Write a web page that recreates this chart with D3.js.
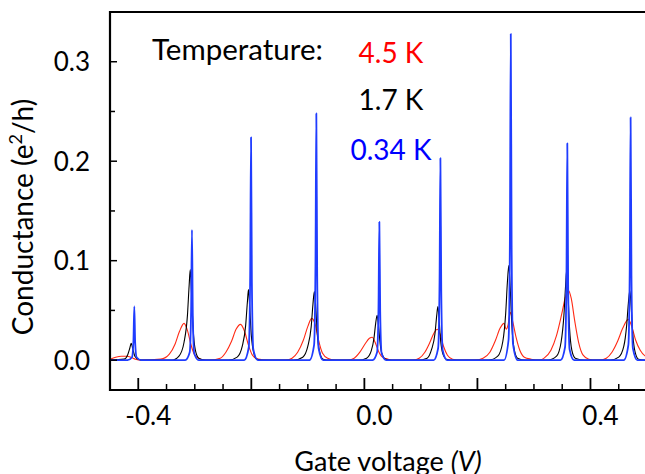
<!DOCTYPE html>
<html>
<head>
<meta charset="utf-8">
<script src="https://cdn.jsdelivr.net/npm/d3@7"></script>
<style>
  body { margin: 0; background: #fff; }
  svg { display: block; font-family: Lato, "Open Sans", sans-serif; }
</style>
</head>
<body>
<div id="chart"></div>
<script>
// Gate-voltage sweeps (V, conductance in e^2/h)
const red45K = [
  [-0.45, 0.001], [-0.44, 0.003], [-0.43, 0.004], [-0.42, 0.004], [-0.413, 0.003], [-0.405, 0.001], [-0.395, 0],
  [-0.36, 0.001], [-0.345, 0.006], [-0.335, 0.016], [-0.327, 0.029], [-0.319, 0.037], [-0.313, 0.030], [-0.307, 0.016], [-0.300, 0.005], [-0.290, 0.001], [-0.275, 0],
  [-0.255, 0.002], [-0.245, 0.008], [-0.235, 0.019], [-0.227, 0.031], [-0.219, 0.036], [-0.212, 0.029], [-0.205, 0.015], [-0.198, 0.005], [-0.188, 0.001], [-0.17, 0],
  [-0.14, 0], [-0.128, 0.002], [-0.118, 0.008], [-0.108, 0.02], [-0.1, 0.034], [-0.093, 0.042], [-0.087, 0.036], [-0.081, 0.02], [-0.074, 0.007], [-0.065, 0.002], [-0.05, 0],
  [-0.03, 0], [-0.018, 0.002], [-0.008, 0.008], [0.002, 0.017], [0.009, 0.022], [0.014, 0.023], [0.019, 0.018], [0.025, 0.009], [0.032, 0.003], [0.042, 0.001], [0.055, 0],
  [0.085, 0], [0.097, 0.002], [0.107, 0.008], [0.116, 0.018], [0.123, 0.027], [0.129, 0.031], [0.134, 0.026], [0.14, 0.014], [0.147, 0.005], [0.156, 0.001], [0.17, 0],
  [0.195, 0], [0.21, 0.002], [0.222, 0.008], [0.232, 0.02], [0.24, 0.032], [0.247, 0.037], [0.251, 0.031], [0.254, 0.035], [0.258, 0.048], [0.262, 0.04], [0.268, 0.024], [0.275, 0.01], [0.283, 0.003], [0.295, 0.001], [0.31, 0],
  [0.318, 0.002], [0.33, 0.01], [0.34, 0.025], [0.349, 0.046], [0.356, 0.064], [0.361, 0.07], [0.366, 0.062], [0.372, 0.04], [0.379, 0.018], [0.387, 0.005], [0.397, 0.001], [0.41, 0],
  [0.415, 0], [0.428, 0.002], [0.438, 0.008], [0.448, 0.019], [0.457, 0.032], [0.467, 0.041], [0.473, 0.034], [0.48, 0.02], [0.488, 0.01], [0.497, 0.004], [0.5, 0.003]
];

const black17K = [
  [-0.45, 0], [-0.425, 0.001], [-0.419, 0.005], [-0.415, 0.012], [-0.4125, 0.017], [-0.41, 0.012], [-0.406, 0.004], [-0.4, 0.001], [-0.39, 0],
  [-0.34, 0], [-0.328, 0.004], [-0.319, 0.018], [-0.313, 0.045], [-0.310, 0.075], [-0.308, 0.091], [-0.306, 0.07], [-0.303, 0.032], [-0.299, 0.01], [-0.293, 0.002], [-0.28, 0],
  [-0.24, 0], [-0.225, 0.003], [-0.216, 0.014], [-0.21, 0.035], [-0.207, 0.058], [-0.205, 0.071], [-0.203, 0.055], [-0.2, 0.025], [-0.196, 0.008], [-0.19, 0.001], [-0.175, 0],
  [-0.125, 0], [-0.109, 0.003], [-0.1, 0.014], [-0.094, 0.034], [-0.091, 0.056], [-0.0885, 0.069], [-0.086, 0.053], [-0.083, 0.024], [-0.079, 0.008], [-0.073, 0.001], [-0.06, 0],
  [-0.01, 0], [0.004, 0.002], [0.012, 0.009], [0.017, 0.022], [0.02, 0.037], [0.0225, 0.045], [0.025, 0.035], [0.028, 0.016], [0.032, 0.005], [0.038, 0.001], [0.05, 0],
  [0.095, 0], [0.111, 0.002], [0.119, 0.011], [0.125, 0.027], [0.128, 0.045], [0.13, 0.054], [0.132, 0.042], [0.135, 0.019], [0.139, 0.006], [0.145, 0.001], [0.16, 0],
  [0.22, 0], [0.236, 0.004], [0.245, 0.019], [0.25, 0.047], [0.253, 0.078], [0.2555, 0.095], [0.258, 0.073], [0.261, 0.034], [0.265, 0.011], [0.271, 0.002], [0.285, 0],
  [0.325, 0], [0.34, 0.004], [0.348, 0.018], [0.353, 0.045], [0.356, 0.075], [0.358, 0.091], [0.360, 0.07], [0.363, 0.032], [0.367, 0.01], [0.373, 0.002], [0.39, 0],
  [0.435, 0], [0.45, 0.003], [0.459, 0.014], [0.464, 0.035], [0.467, 0.057], [0.4696, 0.07], [0.472, 0.054], [0.475, 0.025], [0.479, 0.008], [0.485, 0.001], [0.5, 0]
];

const blue034K = [
  [-0.45, 0],
  [-0.419, 0], [-0.411, 0.003], [-0.4085, 0.02], [-0.407, 0.054], [-0.4055, 0.018], [-0.403, 0.003], [-0.395, 0],
  [-0.317, 0], [-0.309, 0.008], [-0.3065, 0.05], [-0.305, 0.131], [-0.3035, 0.045], [-0.301, 0.007], [-0.293, 0],
  [-0.2125, 0], [-0.2045, 0.013], [-0.202, 0.085], [-0.2005, 0.224], [-0.199, 0.078], [-0.1965, 0.011], [-0.1885, 0],
  [-0.097, 0], [-0.089, 0.015], [-0.0865, 0.095], [-0.085, 0.248], [-0.0835, 0.087], [-0.081, 0.012], [-0.073, 0],
  [0.0145, 0], [0.0225, 0.008], [0.025, 0.053], [0.0265, 0.139], [0.028, 0.049], [0.0305, 0.007], [0.0385, 0],
  [0.1225, 0], [0.1305, 0.012], [0.133, 0.078], [0.1345, 0.203], [0.136, 0.071], [0.1385, 0.01], [0.1465, 0],
  [0.247, 0], [0.255, 0.02], [0.2575, 0.125], [0.259, 0.328], [0.2605, 0.115], [0.263, 0.016], [0.271, 0],
  [0.347, 0], [0.355, 0.013], [0.3575, 0.083], [0.359, 0.218], [0.3605, 0.076], [0.363, 0.011], [0.371, 0],
  [0.459, 0], [0.467, 0.015], [0.4695, 0.093], [0.471, 0.244], [0.4725, 0.085], [0.475, 0.012], [0.483, 0],
  [0.5, 0]
];

const xMajorTicks = [-0.4, -0.2, 0.0, 0.2, 0.4];
const xLabelTicks = [-0.4, 0.0, 0.4];
const xMinorTicks = [-0.35, -0.3, -0.25, -0.15, -0.1, -0.05, 0.05, 0.1, 0.15, 0.25, 0.3, 0.35, 0.45];
const yMajorTicks = [0.0, 0.1, 0.2, 0.3];
const yMinorTicks = [0.05, 0.15, 0.25];

const legendTitle = "Temperature:";
const legendItems = [
  { label: "4.5 K", color: "#ff0000" },
  { label: "1.7 K", color: "#000000" },
  { label: "0.34 K", color: "#0000ff" }
];

const width = 645, height = 474;
const x = d3.scaleLinear().domain([-0.45, 0.5]).range([110, 647]);
const y = d3.scaleLinear().domain([-0.03, 0.35]).range([390, 12]);

const svg = d3.select("#chart").append("svg")
  .attr("width", width)
  .attr("height", height);

const line = d3.line()
  .x(d => x(d[0]))
  .y(d => y(d[1]))
  .curve(d3.curveMonotoneX);

// traces
[
  { data: red45K, color: "#ff2a14", w: 1.1 },
  { data: black17K, color: "#000000", w: 1.1 },
  { data: blue034K, color: "#1f3cff", w: 1.8 }
].forEach(s => {
  svg.append("path")
    .datum(s.data)
    .attr("fill", "none")
    .attr("stroke", s.color)
    .attr("stroke-width", s.w)
    .attr("stroke-linejoin", "round")
    .attr("d", line);
});

// frame: left, bottom and top lines
const x0 = x.range()[0], x1 = x.range()[1];
const yb = y.range()[0], yt = y.range()[1];
svg.append("path")
  .attr("d", `M${x1},${yt}H${x0}V${yb}H${x1}`)
  .attr("fill", "none")
  .attr("stroke", "#000")
  .attr("stroke-width", 2.2);

// x ticks (inward)
svg.selectAll(".xmaj").data(xMajorTicks).join("line")
  .attr("x1", d => x(d)).attr("x2", d => x(d))
  .attr("y1", yb).attr("y2", yb - 12)
  .attr("stroke", "#000").attr("stroke-width", 1.8);
svg.selectAll(".xmin").data(xMinorTicks).join("line")
  .attr("x1", d => x(d)).attr("x2", d => x(d))
  .attr("y1", yb).attr("y2", yb - 6)
  .attr("stroke", "#000").attr("stroke-width", 1.5);

// y ticks (inward)
svg.selectAll(".ymaj").data(yMajorTicks).join("line")
  .attr("x1", x0).attr("x2", x0 + 7)
  .attr("y1", d => y(d)).attr("y2", d => y(d))
  .attr("stroke", "#000").attr("stroke-width", 1.5);
svg.selectAll(".ymin").data(yMinorTicks).join("line")
  .attr("x1", x0).attr("x2", x0 + 5)
  .attr("y1", d => y(d)).attr("y2", d => y(d))
  .attr("stroke", "#000").attr("stroke-width", 1.5);

// tick labels
svg.selectAll(".xl").data(xLabelTicks).join("text")
  .attr("x", d => x(d) + 10)
  .attr("y", 425)
  .attr("text-anchor", "middle")
  .attr("font-size", 26)
  .text(d => d3.format(".1f")(d).replace("−", "-"));

svg.selectAll(".yl").data(yMajorTicks).join("text")
  .attr("x", 90)
  .attr("y", d => y(d))
  .attr("dy", "0.36em")
  .attr("text-anchor", "end")
  .attr("font-size", 26)
  .text(d => d3.format(".1f")(d));

// axis titles
const xt = svg.append("text")
  .attr("x", 388)
  .attr("y", 471)
  .attr("text-anchor", "middle")
  .attr("font-size", 27);
xt.append("tspan").text("Gate voltage ");
xt.append("tspan").attr("font-style", "italic").text("(V)");

const yt2 = svg.append("text")
  .attr("transform", "translate(33,217) rotate(-90)")
  .attr("text-anchor", "middle")
  .attr("font-size", 28);
yt2.append("tspan").text("Conductance (e");
yt2.append("tspan").attr("font-size", 18).attr("dy", -11).text("2");
yt2.append("tspan").attr("dy", 11).text("/h)");

// legend
svg.append("text")
  .attr("x", 152).attr("y", 60)
  .attr("font-size", 29.5)
  .text(legendTitle);

svg.selectAll(".leg").data(legendItems).join("text")
  .attr("x", 391)
  .attr("y", (d, i) => [63, 110, 160][i])
  .attr("text-anchor", "middle")
  .attr("font-size", 28)
  .attr("fill", d => d.color)
  .text(d => d.label);
</script>
</body>
</html>
